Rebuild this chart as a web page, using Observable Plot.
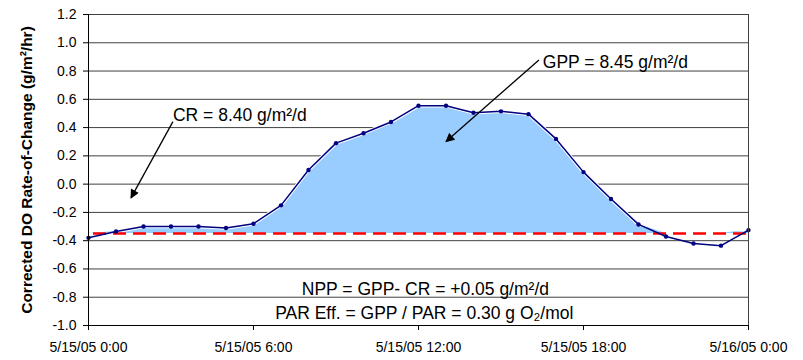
<!DOCTYPE html>
<html>
<head>
<meta charset="utf-8">
<script src="https://cdn.jsdelivr.net/npm/d3@7"></script>
<script src="https://cdn.jsdelivr.net/npm/@observablehq/plot@0.6"></script>
<style>
  body { margin: 0; background: #fff; }
</style>
</head>
<body>
<div id="chart"></div>
<script>
// Hourly corrected dissolved-oxygen rate of change over one day (5/15/05 0:00 to 5/16/05 0:00)
const hours = [0, 1, 2, 3, 4, 5, 6, 7, 8, 9, 10, 11, 12, 13, 14, 15, 16, 17, 18, 19, 20, 21, 22, 23, 24];
const rate = [-0.38, -0.335, -0.30, -0.30, -0.30, -0.31, -0.28, -0.15, 0.10, 0.29, 0.36, 0.44,
              0.555, 0.555, 0.505, 0.515, 0.495, 0.32, 0.085, -0.105, -0.285, -0.37, -0.42, -0.435, -0.325];

// Night-time community respiration level used as the GPP baseline
const crBaseline = -0.35;

const yTicks = [-1.0, -0.8, -0.6, -0.4, -0.2, 0.0, 0.2, 0.4, 0.6, 0.8, 1.0, 1.2];
const xTicks = [0, 6, 12, 18, 24];
const xTickLabels = ["5/15/05 0:00", "5/15/05 6:00", "5/15/05 12:00", "5/15/05 18:00", "5/16/05 0:00"];

const series = hours.map((h, i) => ({hour: h, rate: rate[i]}));
// GPP area: everything above the respiration baseline
const gppArea = series.map(d => ({hour: d.hour, top: Math.max(d.rate, crBaseline)}));
const aboveBaseline = series.filter(d => d.rate > crBaseline);

const fmt = v => (Math.abs(v) < 1e-9 ? 0 : v).toFixed(1);

const chart = Plot.plot({
  width: 803,
  height: 360,
  marginLeft: 88,
  marginRight: 55,
  marginTop: 14,
  marginBottom: 35,
  style: {
    fontFamily: "'Liberation Sans', Arial, sans-serif",
    fontSize: "14px",
    color: "black",
    background: "white",
    overflow: "visible"
  },
  x: {domain: [0, 24]},
  y: {domain: [-1.0, 1.2]},
  marks: [
    // horizontal gridlines
    Plot.ruleY(yTicks.filter(t => t > -1), {stroke: "#404040", strokeWidth: 1}),
    // GPP fill between the curve and the respiration baseline
    Plot.areaY(gppArea, {x: "hour", y1: crBaseline, y2: "top", fill: "#99CCFF"}),
    Plot.lineY(aboveBaseline, {x: "hour", y: "rate", stroke: "white", strokeWidth: 3.5}),
    // respiration baseline
    Plot.ruleY([crBaseline], {stroke: "#FF0000", strokeWidth: 2.5, strokeDasharray: "13,7", strokeDashoffset: 15}),
    // measured rate of change
    Plot.lineY(series, {x: "hour", y: "rate", stroke: "#000080", strokeWidth: 1.5}),
    Plot.dot(series, {x: "hour", y: "rate", r: 2.2, fill: "#000080", stroke: "none"}),
    // plot-area border and axis lines
    Plot.ruleX([24], {stroke: "#404040"}),
    Plot.ruleX([0], {stroke: "black"}),
    Plot.ruleY([-1.0], {stroke: "black"}),
    Plot.axisY({ticks: yTicks, tickSize: 5, tickPadding: 7, tickFormat: fmt, label: null, fontSize: 14}),
    Plot.axisX({ticks: xTicks, tickSize: 5, tickPadding: 12, tickFormat: h => xTickLabels[xTicks.indexOf(h)], label: null, fontSize: 14}),
    Plot.text(["Corrected DO Rate-of-Change (g/m²/hr)"], {
      text: d => d, frameAnchor: "left", dx: -61, rotate: -90,
      fontWeight: "bold", fontSize: 15.5, textAnchor: "middle", lineAnchor: "middle"
    }),
    // annotations
    Plot.text(["CR = 8.40 g/m²/d"], {text: d => d, x: 3.07, y: 0.444, textAnchor: "start", lineAnchor: "bottom", fontSize: 17.5}),
    Plot.text(["GPP = 8.45 g/m²/d"], {text: d => d, x: 16.52, y: 0.822, textAnchor: "start", lineAnchor: "bottom", fontSize: 17.5}),
    Plot.text(["NPP = GPP- CR = +0.05 g/m²/d"], {text: d => d, x: 12.25, y: -0.784, textAnchor: "middle", lineAnchor: "bottom", fontSize: 17.5}),
    Plot.text(["PAR Eff. = GPP / PAR = 0.30 g O₂/mol"], {text: d => d, x: 12.21, y: -0.954, textAnchor: "middle", lineAnchor: "bottom", fontSize: 17.5}),
    Plot.link([0], {x1: 3.07, y1: 0.442, x2: 1.545, y2: -0.097, stroke: "black", strokeWidth: 1.3}),
    Plot.link([0], {x1: 16.38, y1: 0.878, x2: 13.0, y2: 0.301, stroke: "black", strokeWidth: 1.3})
  ]
});

// filled arrowheads for the annotation leaders
const svg = d3.select(chart);
svg.append("defs").append("marker")
  .attr("id", "arrowhead")
  .attr("viewBox", "0 0 10 10")
  .attr("refX", 9)
  .attr("refY", 5)
  .attr("markerUnits", "userSpaceOnUse")
  .attr("markerWidth", 11)
  .attr("markerHeight", 9)
  .attr("orient", "auto")
  .append("path")
  .attr("d", "M0,0L10,5L0,10Z")
  .attr("fill", "black");
svg.selectAll('g[aria-label="link"] path').attr("marker-end", "url(#arrowhead)");

document.getElementById("chart").appendChild(chart);
</script>
</body>
</html>
